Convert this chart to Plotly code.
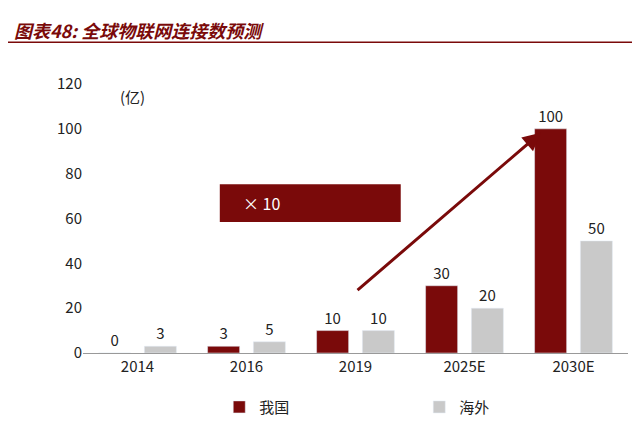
import plotly.graph_objects as go

years = ["2014", "2016", "2019", "2025E", "2030E"]
china = [0, 3, 10, 30, 100]
overseas = [3, 5, 10, 20, 50]

red = "#7A0A0A"
gray = "#C9C9C9"
font = "Noto Sans CJK SC"

fig = go.Figure()
fig.add_trace(go.Bar(x=years, y=china, name="我国", marker_color=red,
                     text=china, textposition="outside", cliponaxis=False,
                     textfont=dict(size=15, color="#222")))
fig.add_trace(go.Bar(x=years, y=overseas, name="海外", marker_color=gray,
                     text=overseas, textposition="outside", cliponaxis=False,
                     textfont=dict(size=15, color="#222")))

fig.update_layout(
    width=640, height=428,
    margin=dict(l=75, r=20, t=76, b=81),
    plot_bgcolor="white", paper_bgcolor="white",
    font=dict(family=font, size=14, color="#222"),
    barmode="group", bargap=0.16, bargroupgap=0.3,
    showlegend=True,
    legend=dict(orientation="h", x=0.25, y=-0.14, xanchor="left", yanchor="top",
                entrywidth=155, font=dict(size=15)),
    yaxis=dict(range=[0, 120], dtick=20, showgrid=False, ticks="",
               showline=False, tickfont=dict(size=15)),
    xaxis=dict(showline=True, linecolor="#999", ticks="", tickfont=dict(size=15)),
)

# Title and rule
fig.add_annotation(xref="paper", yref="paper", x=-0.13, y=1.255, xanchor="left",
                   text="<i><b>图表48: 全球物联网连接数预测</b></i>", showarrow=False,
                   font=dict(size=18, color=red))
fig.add_shape(type="line", xref="paper", yref="paper", x0=-0.138, x1=1.037,
              y0=1.155, y1=1.155, line=dict(color=red, width=1.5))
fig.add_annotation(xref="paper", yref="paper", x=0.065, y=1.0, text="(亿)",
                   showarrow=False, font=dict(size=15))

# x10 box
fig.add_shape(type="rect", xref="paper", yref="paper", x0=0.251, x1=0.583,
              y0=0.487, y1=0.627, fillcolor=red, line=dict(width=0))
fig.add_annotation(xref="paper", yref="paper", x=0.29, y=0.557, xanchor="left",
                   text="× 10", showarrow=False, font=dict(size=16, color="white"))

# Arrow
fig.add_annotation(xref="x domain", yref="y domain", axref="x domain", ayref="y domain",
                   x=0.840, y=0.819, ax=0.501, ay=0.229, text="",
                   showarrow=True, arrowhead=2, arrowsize=1.2, arrowwidth=3,
                   arrowcolor=red)

fig.write_html("out.html")
